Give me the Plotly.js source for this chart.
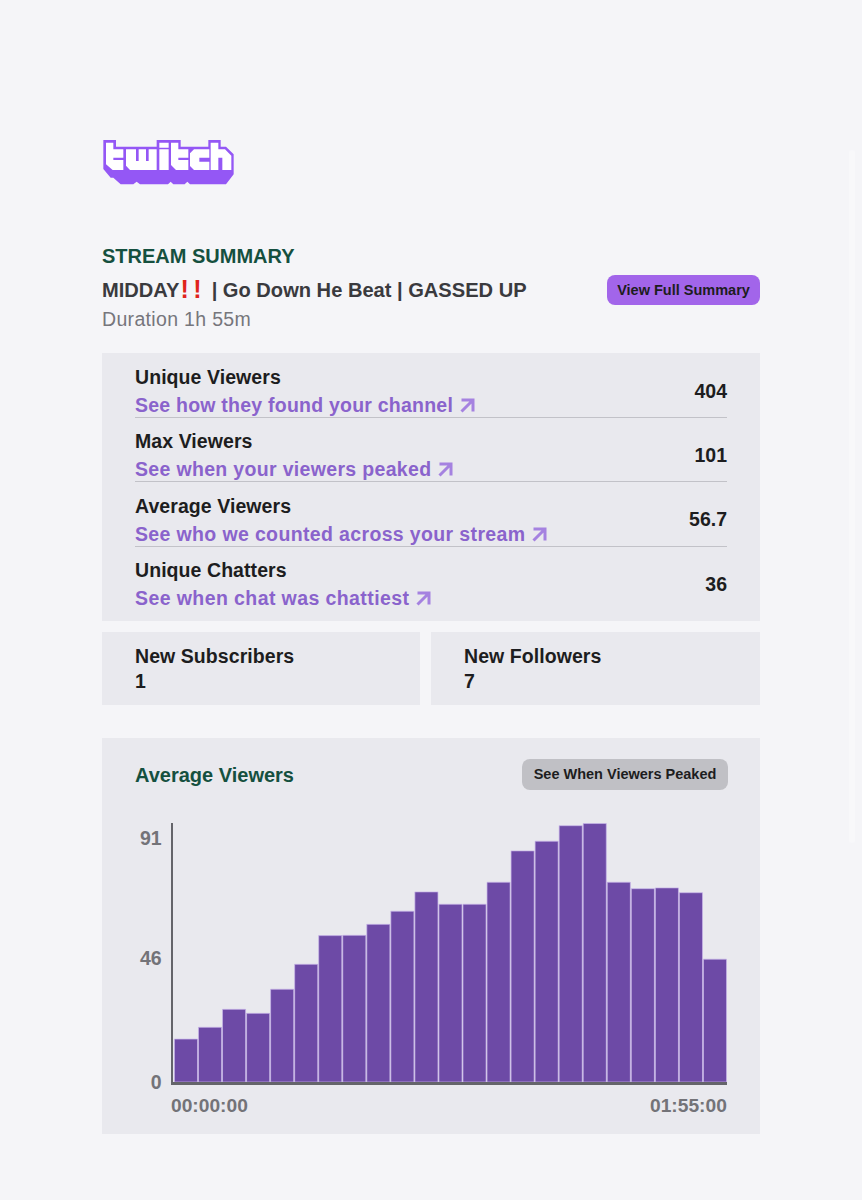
<!DOCTYPE html>
<html><head><meta charset="utf-8">
<script src="https://cdn.plot.ly/plotly-3.0.1.min.js"></script>
<style>
html,body{margin:0;padding:0;background:#f5f5f8;}
#page{position:relative;width:862px;height:1200px;overflow:hidden;font-family:"Liberation Sans",Arial,sans-serif;background:#f5f5f8;}
.a{position:absolute;white-space:nowrap;}
.panel{position:absolute;background:#e9e9ee;}
.b{font-weight:700;color:#1d1d20;font-size:19.5px;line-height:24px;letter-spacing:.07px;}
.l{font-weight:700;color:#8a63cc;font-size:19.5px;line-height:24px;letter-spacing:.23px;}
.v{font-weight:700;color:#1d1d20;font-size:19.5px;line-height:24px;right:135px;text-align:right;}
.rule{position:absolute;left:135px;width:592px;height:1px;background:#c2c2c8;}
.btn{position:absolute;border-radius:8px;text-align:center;font-weight:700;font-size:14.5px;color:#1d1d20;}
.arrow{display:inline-block;vertical-align:-1px;margin-left:7px;}
#chart{position:absolute;left:102px;top:800px;width:658px;height:334px;}
</style></head><body><div id="page">
<div class="a" style="left:849px;top:150px;width:6px;height:693px;border-radius:3px;background:#f8f8fa;"></div>
<svg class="a" style="left:90px;top:125px" width="160" height="70" viewBox="0 0 480 210" aria-label="twitch" role="img">
<path fill="#9457f5" d="M40 45H78V65H200V45H272V65H355V45H392V65H408L431 88V148L408 178H300L292 170L284 178H250L242 170L234 178H150L140 170L130 178H92L70 158H62L40 132Z"/>
<path fill="#fff" d="M48 53H70V73H100V98H70V105H100V135H68L48 118Z
M108 73H138V108H146V73H168V108H176V73H200V135H120L108 122Z
M208 53H236V68H208Z M208 73H236V135H208Z
M243 53H265V73H295V98H265V105H295V135H258L243 120Z
M300 85L312 73H358V98H328V110H358V135H312L300 123Z
M362 53H385V73H405L424 92V135H397V98H385V135H362Z"/>
</svg>
<div class="a" style="left:102px;top:243px;font-size:20px;line-height:26px;font-weight:700;color:#15503f;">STREAM SUMMARY</div>
<div class="a" style="left:102px;top:277px;font-size:20.1px;line-height:26px;font-weight:700;color:#3a3a3e;">MIDDAY<span style="color:#e0241c;font-size:25px;line-height:20px;letter-spacing:4.5px;margin-left:1px;position:relative;top:1px;">!!</span> | Go Down He Beat | GASSED UP</div>
<div class="a" style="left:102px;top:306px;font-size:19.5px;line-height:26px;color:#76767c;letter-spacing:.33px;">Duration 1h 55m</div>
<div class="btn" style="left:607px;top:275px;width:153px;height:30px;line-height:30px;background:#a265ea;">View Full Summary</div>

<div class="panel" style="left:102px;top:353px;width:658px;height:268px;"></div>
<div class="a b" style="left:135px;top:365px;">Unique Viewers</div>
<div class="a l" style="left:135px;top:393px;">See how they found your channel<svg class="arrow" width="15" height="15" viewBox="0 0 15 15"><path d="M1.5 2H13V13.5M13 2L1.5 13.5" fill="none" stroke="#a582e0" stroke-width="3"/></svg></div>
<div class="a v" style="top:379px;">404</div>
<div class="rule" style="top:417px;"></div>
<div class="a b" style="left:135px;top:429px;">Max Viewers</div>
<div class="a l" style="left:135px;top:457px;letter-spacing:.33px;">See when your viewers peaked<svg class="arrow" width="15" height="15" viewBox="0 0 15 15"><path d="M1.5 2H13V13.5M13 2L1.5 13.5" fill="none" stroke="#a582e0" stroke-width="3"/></svg></div>
<div class="a v" style="top:443px;">101</div>
<div class="rule" style="top:481px;"></div>
<div class="a b" style="left:135px;top:494px;">Average Viewers</div>
<div class="a l" style="left:135px;top:522px;letter-spacing:.36px;">See who we counted across your stream<svg class="arrow" width="15" height="15" viewBox="0 0 15 15"><path d="M1.5 2H13V13.5M13 2L1.5 13.5" fill="none" stroke="#a582e0" stroke-width="3"/></svg></div>
<div class="a v" style="top:507px;">56.7</div>
<div class="rule" style="top:546px;"></div>
<div class="a b" style="left:135px;top:558px;">Unique Chatters</div>
<div class="a l" style="left:135px;top:586px;letter-spacing:.41px;">See when chat was chattiest<svg class="arrow" width="15" height="15" viewBox="0 0 15 15"><path d="M1.5 2H13V13.5M13 2L1.5 13.5" fill="none" stroke="#a582e0" stroke-width="3"/></svg></div>
<div class="a v" style="top:572px;">36</div>

<div class="panel" style="left:102px;top:632px;width:318px;height:73px;"></div>
<div class="a b" style="left:135px;top:644px;">New Subscribers</div>
<div class="a b" style="left:135px;top:669px;">1</div>
<div class="panel" style="left:431px;top:632px;width:329px;height:73px;"></div>
<div class="a b" style="left:464px;top:644px;">New Followers</div>
<div class="a b" style="left:464px;top:669px;">7</div>

<div class="panel" style="left:102px;top:738px;width:658px;height:396px;"></div>
<div class="a" style="left:135px;top:762px;font-size:20px;line-height:26px;font-weight:700;color:#15503f;">Average Viewers</div>
<div class="btn" style="left:522px;top:759px;width:206px;height:31px;line-height:31px;background:#c0c0c5;">See When Viewers Peaked</div>
<div id="chart"></div>
</div>
<script>
const categories = ["00:00:00","00:05:00","00:10:00","00:15:00","00:20:00","00:25:00","00:30:00","00:35:00","00:40:00","00:45:00","00:50:00","00:55:00","01:00:00","01:05:00","01:10:00","01:15:00","01:20:00","01:25:00","01:30:00","01:35:00","01:40:00","01:45:00","01:50:00"];
const viewers = [16,20.4,27.1,25.6,34.6,43.9,54.6,54.7,58.8,63.7,70.9,66.3,66.3,74.5,86.2,89.8,95.6,96.4,74.5,72.1,72.4,70.6,45.8];
const yTicks = [0,46,91];
const xTickLabels = ["00:00:00","01:55:00"];
const xTickIdx = [0,23];
const xLabelAnchors = ["left","right"];
const xLabelShifts = [-5,2];

const axisFont = {family:'Liberation Sans',size:19.5,color:'#737378',weight:700};
const xLabelFont = {family:'Liberation Sans',size:19.2,color:'#737378',weight:700};
const positions = categories.map((_,i)=>i+0.5);
Plotly.newPlot('chart',[{
  type:'bar',x:positions,y:viewers,hovertext:categories,hoverinfo:'text+y',textposition:'none',
  marker:{color:'#6d4aa6',line:{color:'#c9b6ea',width:0.7}},
  width:0.96
}],{
  width:658,height:334,
  margin:{l:71,r:33,t:23,b:52},
  paper_bgcolor:'rgba(0,0,0,0)',plot_bgcolor:'rgba(0,0,0,0)',
  showlegend:false,
  xaxis:{range:[-0.04,23],showticklabels:false,showgrid:false,zeroline:false,
    showline:true,linecolor:'#64646a',linewidth:2.5,ticks:''},
  yaxis:{range:[0,96.6],tickmode:'array',tickvals:yTicks,ticktext:yTicks.map(String),showgrid:false,zeroline:false,
    showline:true,linecolor:'#64646a',linewidth:2.5,ticks:'',ticklabelstandoff:5,tickfont:axisFont},
  annotations:xTickLabels.map((t,i)=>({text:t,x:xTickIdx[i],xref:'x',y:0,yref:'paper',xanchor:xLabelAnchors[i],yanchor:'top',
    yshift:-11,xshift:xLabelShifts[i],showarrow:false,font:xLabelFont}))
},{displayModeBar:false,staticPlot:true});
</script></body></html>
